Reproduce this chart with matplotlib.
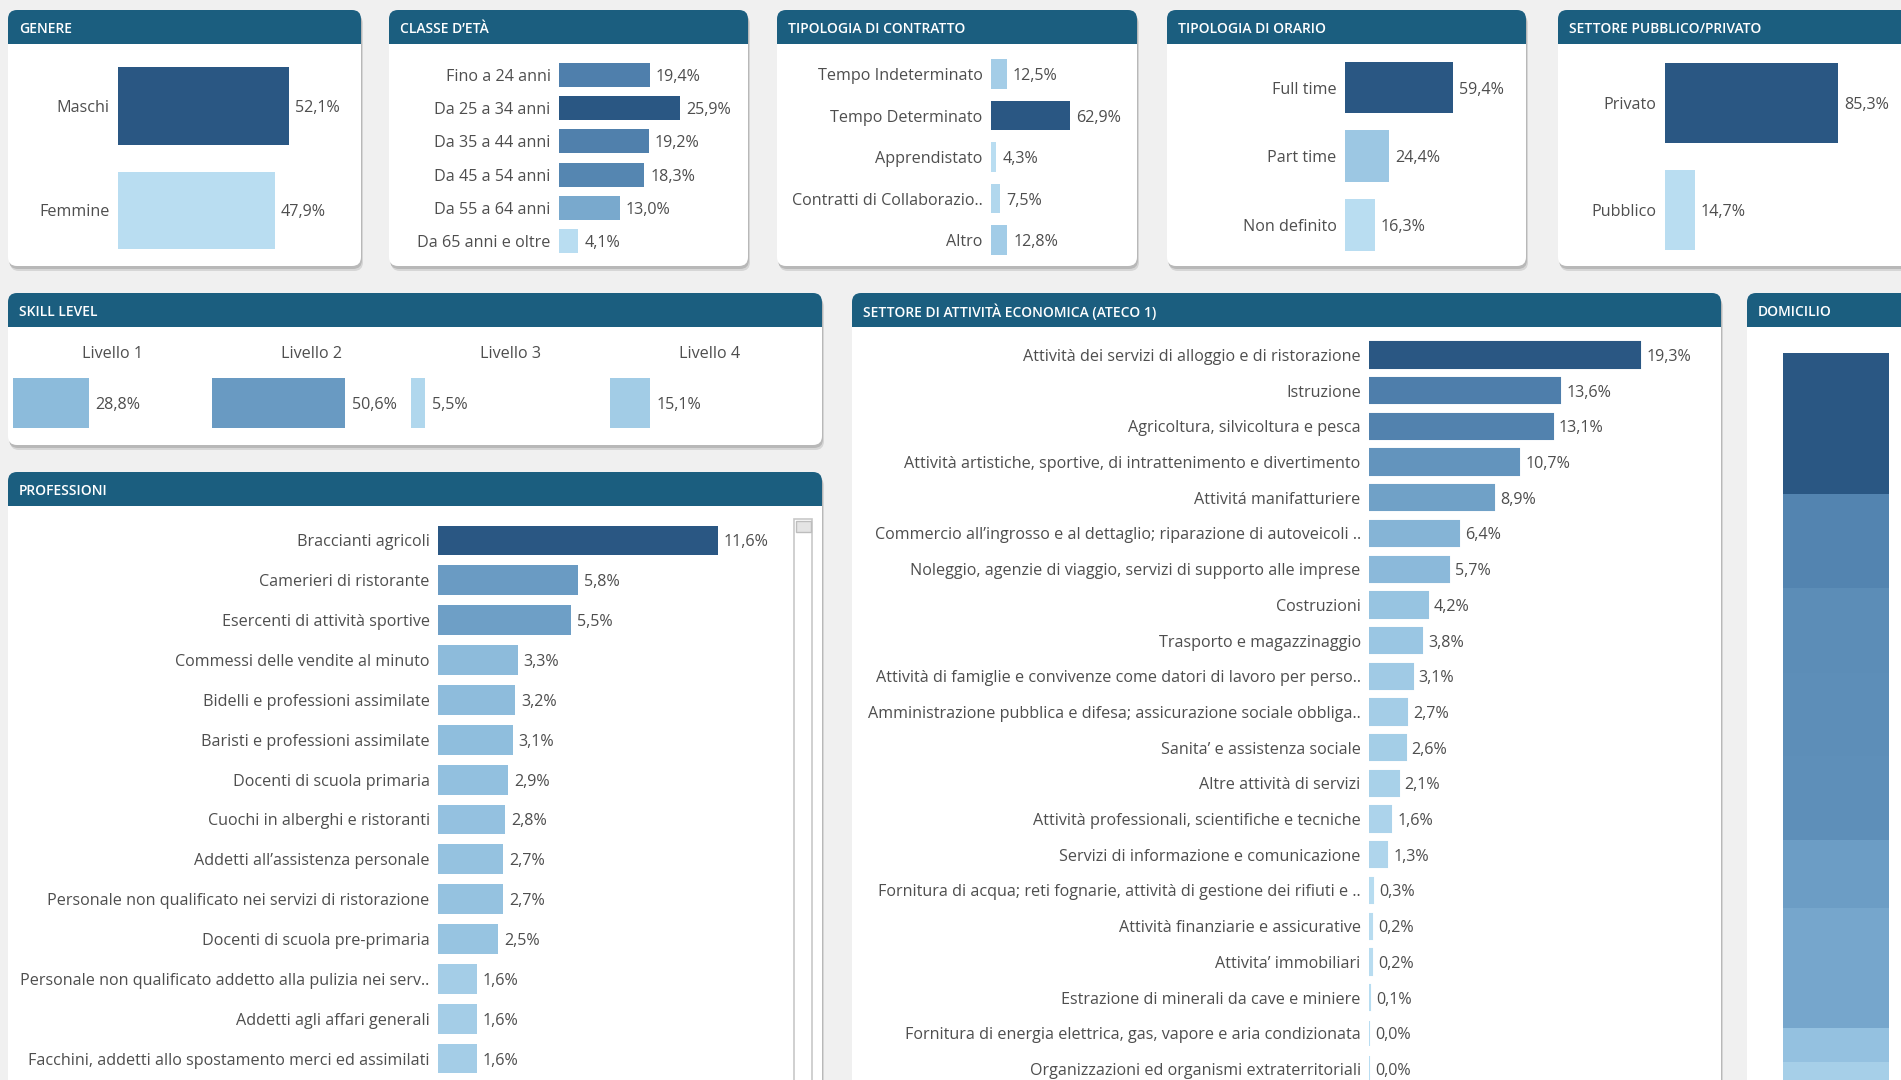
import numpy as np
import matplotlib
matplotlib.use("Agg")
import matplotlib.pyplot as plt
from matplotlib.patches import FancyBboxPatch, Rectangle
from matplotlib.colors import LinearSegmentedColormap, Normalize

# ---------------- data ----------------
genere_labels = ["Maschi", "Femmine"]
genere_values = [52.1, 47.9]

eta_labels = ["Fino a 24 anni", "Da 25 a 34 anni", "Da 35 a 44 anni",
              "Da 45 a 54 anni", "Da 55 a 64 anni", "Da 65 anni e oltre"]
eta_values = [19.4, 25.9, 19.2, 18.3, 13.0, 4.1]

contratto_labels = ["Tempo Indeterminato", "Tempo Determinato", "Apprendistato",
                    "Contratti di Collaborazio..", "Altro"]
contratto_values = [12.5, 62.9, 4.3, 7.5, 12.8]

orario_labels = ["Full time", "Part time", "Non definito"]
orario_values = [59.4, 24.4, 16.3]

pubpriv_labels = ["Privato", "Pubblico"]
pubpriv_values = [85.3, 14.7]

skill_labels = ["Livello 1", "Livello 2", "Livello 3", "Livello 4"]
skill_values = [28.8, 50.6, 5.5, 15.1]

professioni_labels = [
    "Braccianti agricoli",
    "Camerieri di ristorante",
    "Esercenti di attività sportive",
    "Commessi delle vendite al minuto",
    "Bidelli e professioni assimilate",
    "Baristi e professioni assimilate",
    "Docenti di scuola primaria",
    "Cuochi in alberghi e ristoranti",
    "Addetti all\u2019assistenza personale",
    "Personale non qualificato nei servizi di ristorazione",
    "Docenti di scuola pre-primaria",
    "Personale non qualificato addetto alla pulizia nei serv..",
    "Addetti agli affari generali",
    "Facchini, addetti allo spostamento merci ed assimilati",
]
professioni_values = [11.6, 5.8, 5.5, 3.3, 3.2, 3.1, 2.9, 2.8, 2.7, 2.7, 2.5, 1.6, 1.6, 1.6]

ateco_labels = [
    "Attività dei servizi di alloggio e di ristorazione",
    "Istruzione",
    "Agricoltura, silvicoltura e pesca",
    "Attività artistiche, sportive, di intrattenimento e divertimento",
    "Attivitá manifatturiere",
    "Commercio all\u2019ingrosso e al dettaglio; riparazione di autoveicoli ..",
    "Noleggio, agenzie di viaggio, servizi di supporto alle imprese",
    "Costruzioni",
    "Trasporto e magazzinaggio",
    "Attività di famiglie e convivenze come datori di lavoro per perso..",
    "Amministrazione pubblica e difesa; assicurazione sociale obbliga..",
    "Sanita\u2019 e assistenza sociale",
    "Altre attività di servizi",
    "Attività professionali, scientifiche e tecniche",
    "Servizi di informazione e comunicazione",
    "Fornitura di acqua; reti fognarie, attività di gestione dei rifiuti e ..",
    "Attività finanziarie e assicurative",
    "Attivita\u2019 immobiliari",
    "Estrazione di minerali da cave e miniere",
    "Fornitura di energia elettrica, gas, vapore e aria condizionata",
    "Organizzazioni ed organismi extraterritoriali",
]
ateco_values = [19.3, 13.6, 13.1, 10.7, 8.9, 6.4, 5.7, 4.2, 3.8, 3.1, 2.7, 2.6,
                2.1, 1.6, 1.3, 0.3, 0.2, 0.2, 0.1, 0.0, 0.0]

domicilio_values = [19.5, 13.0, 11.7, 11.6, 11.5, 9.5, 8.3, 8.3, 4.7, 2.4]

titles = ["GENERE", "CLASSE D\u2019ETÀ", "TIPOLOGIA DI CONTRATTO", "TIPOLOGIA DI ORARIO",
          "SETTORE PUBBLICO/PRIVATO", "SKILL LEVEL", "PROFESSIONI",
          "SETTORE DI ATTIVITÀ ECONOMICA (ATECO 1)", "DOMICILIO"]

# ---------------- style ----------------
plt.rcParams["font.family"] = ["Open Sans", "DejaVu Sans"]
W, H = 1901, 1080
BG = "#f0f0f0"
HEAD = "#1b5e7f"
TXT = "#4e4e4e"
FS = 11.6
cmap = LinearSegmentedColormap.from_list(
    "tblue", ["#b9ddf1", "#92c0df", "#6a9bc3", "#4878a6", "#2a5783"])

fig = plt.figure(figsize=(W / 100, H / 100), dpi=100)
fig.patch.set_facecolor(BG)

bg = fig.add_axes([0, 0, 1, 1])
bg.set_xlim(0, W)
bg.set_ylim(H, 0)
bg.axis("off")


def pct(v):
    return f"{v:.1f}%".replace(".", ",")


def minmax(vals):
    return Normalize(min(vals), max(vals))


def zeromax(vals):
    return Normalize(0, max(vals))


def panel(x0, y0, x1, y1, title, hh=34, r=9):
    w, h = x1 - x0, y1 - y0
    style = f"round,pad=0,rounding_size={r}"
    bg.add_patch(FancyBboxPatch((x0 + 2, y0 + 5), w, h, boxstyle=style, fc="#d6d6d6", ec="none"))
    bg.add_patch(FancyBboxPatch((x0 + 1, y0 + 3), w, h, boxstyle=style, fc="#b8b8b8", ec="none"))
    bg.add_patch(FancyBboxPatch((x0, y0), w, h, boxstyle=style, fc="white", ec="none"))
    bg.add_patch(FancyBboxPatch((x0, y0), w, hh, boxstyle=style, fc=HEAD, ec="none"))
    bg.add_patch(Rectangle((x0, y0 + hh - r), w, r, fc=HEAD, ec="none"))
    bg.text(x0 + 11, y0 + hh * 0.56, title, color="white", fontsize=10.0,
            fontweight="semibold", va="center", ha="left")


def hbar(labels, values, x0, x1, yc0, step, scale, frac, norm, lw=0.0, fs=FS):
    n = len(values)
    top = yc0 - step / 2
    ax = fig.add_axes([x0 / W, 1 - (top + step * n) / H, (x1 - x0) / W, step * n / H])
    ax.set_xlim(0, (x1 - x0) / scale)
    ax.set_ylim(n - 0.5, -0.5)
    y = np.arange(n)
    cols = cmap(norm(np.array(values)))
    ax.barh(y, values, height=frac, color=cols, edgecolor=cols, linewidth=lw)
    ax.set_yticks(y, labels)
    ax.tick_params(axis="y", length=0, pad=6, labelsize=fs, labelcolor=TXT)
    ax.set_xticks([])
    for s in ax.spines.values():
        s.set_visible(False)
    ax.patch.set_visible(False)
    for yi, v in zip(y, values):
        ax.annotate(pct(v), (v, yi), xytext=(6, 0), textcoords="offset pixels",
                    va="center_baseline", ha="left", fontsize=fs, color=TXT)
    return ax


# ---------------- panels ----------------
panel(8, 10, 361, 266, titles[0])
panel(389, 10, 748, 266, titles[1])
panel(777, 10, 1137, 266, titles[2])
panel(1167, 10, 1526, 266, titles[3])
panel(1558, 10, 1930, 266, titles[4])
panel(8, 293, 822, 445, titles[5])
panel(8, 472, 822, 1200, titles[6])
panel(852, 293, 1721, 1200, titles[7])
panel(1747, 293, 1930, 1200, titles[8])

# scrollbar of the professioni list
bg.add_patch(Rectangle((794, 519), 18, 700, fc="white", ec="#c8c8c8", lw=1.2))
bg.add_patch(Rectangle((795.5, 520.5), 15, 11, fc="#e4e4e4", ec="#bdbdbd", lw=1))

# ---------------- charts ----------------
hbar(genere_labels, genere_values, 118, 355, 106, 104.5, 3.28, 0.746, minmax(genere_values))
hbar(eta_labels, eta_values, 559, 745, 75, 33.2, 4.67, 0.72, minmax(eta_values))
hbar(contratto_labels, contratto_values, 991, 1133, 74, 41.5, 1.261, 0.72, minmax(contratto_values))
hbar(orario_labels, orario_values, 1345, 1522, 87.5, 68.75, 1.813, 0.75, minmax(orario_values))
hbar(pubpriv_labels, pubpriv_values, 1665, 1901, 102.7, 107.3, 2.032, 0.745, minmax(pubpriv_values))
hbar(professioni_labels, professioni_values, 438, 790, 540.5, 39.85, 24.1, 0.75,
     zeromax(professioni_values))
hbar(ateco_labels, ateco_values, 1369, 1715, 355, 35.7, 14.05, 0.71, zeromax(ateco_values), lw=1.5)

# skill level: one small axes per level
skill_norm = Normalize(0, 100)
for i, (lab, v) in enumerate(zip(skill_labels, skill_values)):
    x0 = 13 + 199 * i
    ax = fig.add_axes([x0 / W, 1 - 428 / H, 199 / W, 50 / H])
    ax.set_xlim(0, 199 / 2.63)
    ax.set_ylim(-0.5, 0.5)
    ax.barh([0], [v], height=1.0, color=cmap(skill_norm(v)))
    ax.annotate(pct(v), (v, 0), xytext=(7, 0), textcoords="offset pixels",
                va="center_baseline", ha="left", fontsize=FS, color=TXT)
    ax.text(0.5, 1.48, lab, transform=ax.transAxes, ha="center", va="center",
            fontsize=FS, color=TXT)
    ax.axis("off")

# domicilio: one stacked vertical bar
dom = np.array(domicilio_values)
ax = fig.add_axes([1783 / W, 0, 106 / W, 1 - 353 / H])
ax.set_xlim(-0.5, 0.5)
ax.set_ylim(727 / 7.23, 0)
bottoms = np.concatenate([[0], np.cumsum(dom)[:-1]])
ax.bar(np.zeros(len(dom)), dom, bottom=bottoms, width=1.0,
       color=cmap(zeromax(domicilio_values)(dom)))
ax.axis("off")

fig.savefig("out.png", dpi=100, facecolor=BG)
